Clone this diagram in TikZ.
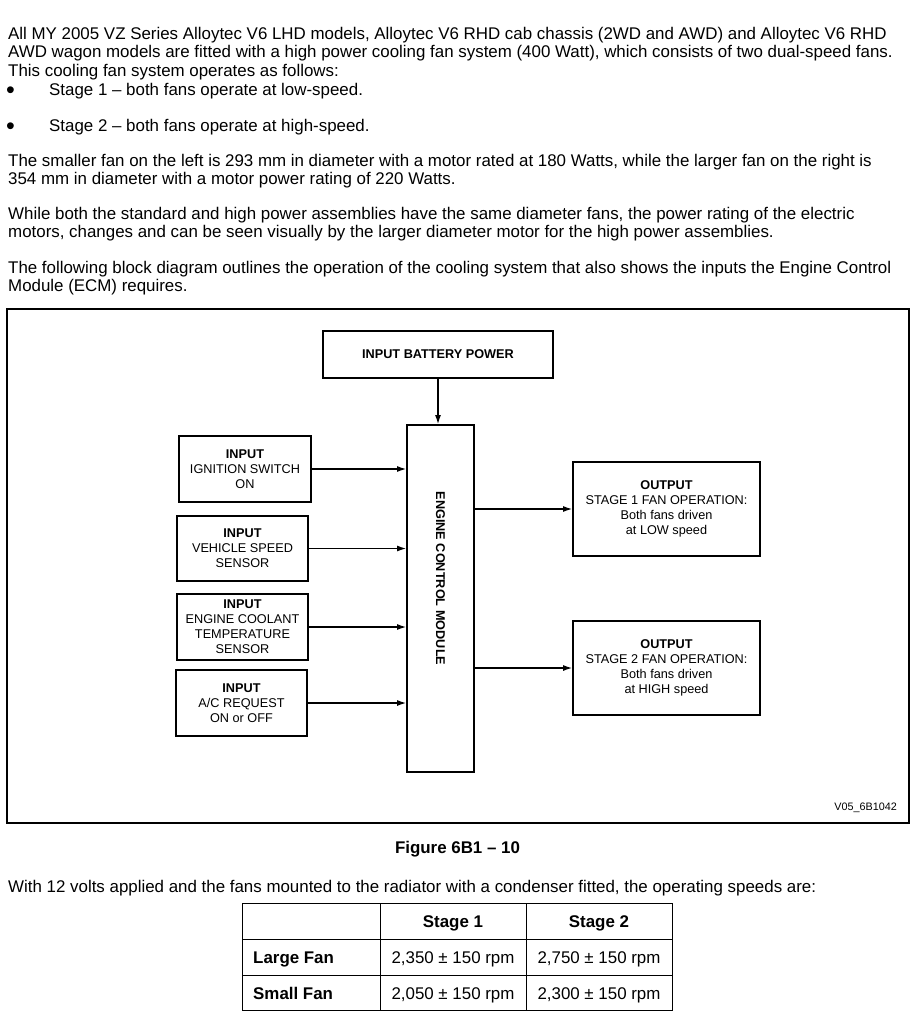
\documentclass[tikz,border=0pt]{standalone}
\usepackage{fontspec}
\setmainfont{Liberation Sans}
\usetikzlibrary{positioning,arrows.meta}

\begin{document}
\begin{tikzpicture}[%
    x=1pt, y=-1pt,
    >={Latex[length=9pt,width=6pt]},
    body/.style={anchor=north west, inner sep=0pt, align=left,
      font=\fontsize{16.9}{18.5}\selectfont},
    dot/.style={anchor=base west, inner sep=0pt, font=\fontsize{25}{25}\selectfont},
    block/.style={draw, line width=1.8pt, align=center, inner sep=0pt,
      font=\fontsize{12.7}{15}\selectfont},
    link/.style={->, line width=1.2pt},
    cell/.style={anchor=base, inner sep=0pt, font=\fontsize{16.9}{18}\selectfont}
  ]
    \useasboundingbox (0,0) rectangle (917,1024);

    % text above the figure
    \node[body] (intro) at (8,26.7) {All MY 2005 VZ Series Alloytec V6 LHD models, Alloytec V6 RHD cab chassis (2WD and AWD) and Alloytec V6 RHD\\
      AWD wagon models are fitted with a high power cooling fan system (400 Watt), which consists of two dual-speed fans.\\
      This cooling fan system operates as follows:};
    \node[dot] (dot1) at (6,99) {•};
    \node[body] (stage1) at (49,82.7) {Stage 1 – both fans operate at low-speed.};
    \node[dot] (dot2) at (6,135) {•};
    \node[body] (stage2) at (49,118.7) {Stage 2 – both fans operate at high-speed.};
    \node[body] (sizes) at (8,153.7) {The smaller fan on the left is 293 mm in diameter with a motor rated at 180 Watts, while the larger fan on the right is\\
      354 mm in diameter with a motor power rating of 220 Watts.};
    \node[body] (motors) at (8,206.7) {While both the standard and high power assemblies have the same diameter fans, the power rating of the electric\\
      motors, changes and can be seen visually by the larger diameter motor for the high power assemblies.};
    \node[body] (lead) at (8,260.7) {The following block diagram outlines the operation of the cooling system that also shows the inputs the Engine Control\\
      Module (ECM) requires.};

    % figure frame
    \draw[line width=2.8pt] (7,309) rectangle (909,823);

    \node[block, minimum width=230, minimum height=47] (battery) at (438,354.5) {\textbf{INPUT BATTERY POWER}};
    \node[block, minimum width=67, minimum height=347] (ecm) at (440.5,598.5)
      {\rotatebox{-90}{\textbf{ENGINE CONTROL MODULE}\hspace{40pt}}};

    \node[block, minimum width=132, minimum height=66] (ignition) at (245,469) {\textbf{INPUT}\\IGNITION SWITCH\\ON};
    \node[block, minimum width=131, minimum height=65] (speed) at (242.5,548.5) {\textbf{INPUT}\\VEHICLE SPEED\\SENSOR};
    \node[block, minimum width=131, minimum height=66] (coolant) at (242.5,627) {\textbf{INPUT}\\ENGINE COOLANT\\TEMPERATURE\\SENSOR};
    \node[block, minimum width=131, minimum height=66] (aircon) at (241.5,703) {\textbf{INPUT}\\A/C REQUEST\\ON or OFF};

    \node[block, minimum width=187, minimum height=94] (low) at (666.5,509) {\textbf{OUTPUT}\\STAGE 1 FAN OPERATION:\\Both fans driven\\at LOW speed};
    \node[block, minimum width=187, minimum height=94] (high) at (666.5,668) {\textbf{OUTPUT}\\STAGE 2 FAN OPERATION:\\Both fans driven\\at HIGH speed};

    \draw[link] (battery.south) -- (battery.south |- ecm.north);
    \draw[link] (ignition.east) -- (ignition.east -| ecm.west);
    \draw[link] (speed.east) -- (speed.east -| ecm.west);
    \draw[link] (coolant.east) -- (coolant.east -| ecm.west);
    \draw[link] (aircon.east) -- (aircon.east -| ecm.west);
    \draw[link] (ecm.east |- low.west) -- (low.west);
    \draw[link] (ecm.east |- high.west) -- (high.west);

    \node[anchor=east, inner sep=0pt, font=\fontsize{10.8}{13}\selectfont] (code) at (897,808) {V05\_6B1042};
    \node[inner sep=0pt, font=\bfseries\fontsize{16.9}{18}\selectfont] (caption) at (457.5,849) {Figure 6B1 – 10};

    % text and table below the figure
    \node[body] (speeds) at (8,879.7) {With 12 volts applied and the fans mounted to the radiator with a condenser fitted, the operating speeds are:};

    \draw[line width=0.9pt] (242,903) rectangle (672,1010);
    \draw[line width=0.9pt] (380,903) -- (380,1010)
                            (526,903) -- (526,1010)
                            (242,939) -- (672,939)
                            (242,975) -- (672,975);

    \node[cell, font=\bfseries\fontsize{16.9}{18}\selectfont] (headone) at (453,927) {Stage 1};
    \node[cell, font=\bfseries\fontsize{16.9}{18}\selectfont] (headtwo) at (599,927) {Stage 2};
    \node[cell, anchor=base west, font=\bfseries\fontsize{16.9}{18}\selectfont] (large) at (253,963) {Large Fan};
    \node[cell, anchor=base west, font=\bfseries\fontsize{16.9}{18}\selectfont] (small) at (253,999) {Small Fan};
    \node[cell] (largeone) at (453,963) {2,350 ± 150 rpm};
    \node[cell] (largetwo) at (599,963) {2,750 ± 150 rpm};
    \node[cell] (smallone) at (453,999) {2,050 ± 150 rpm};
    \node[cell] (smalltwo) at (599,999) {2,300 ± 150 rpm};
  \end{tikzpicture}
\end{document}
